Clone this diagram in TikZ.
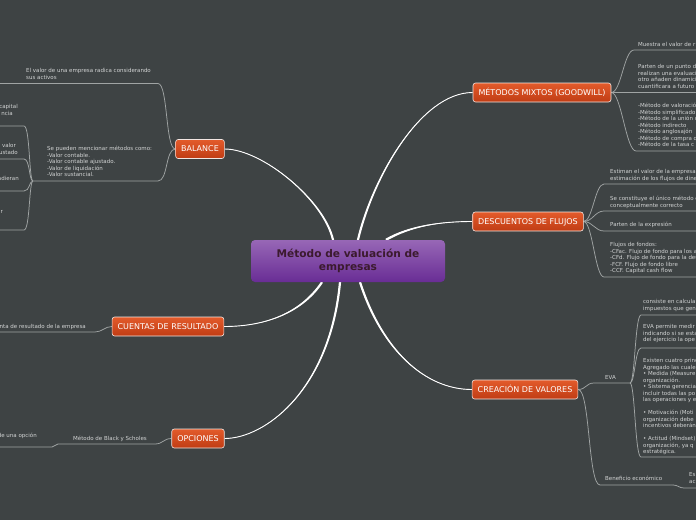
\documentclass[tikz,border=0pt]{standalone}
\usepackage{fontspec}
\setmainfont{DejaVu Sans}
\usetikzlibrary{calc}
\definecolor{bgc}{HTML}{3E4344}
\definecolor{linec}{HTML}{A0A4A4}
\definecolor{txtc}{HTML}{D2D4D4}
\definecolor{brtop}{HTML}{E35B2B}
\definecolor{brbot}{HTML}{C03C14}
\definecolor{brline}{HTML}{F2E6E2}
\definecolor{cetop}{HTML}{9767B6}
\definecolor{cebot}{HTML}{692D95}
\definecolor{cetxt}{HTML}{3B1A2E}
\newcommand{\tlines}[1]{\begin{tabular}[t]{@{}l@{}}#1\end{tabular}}
\newcommand{\taperline}[5]{%
  \fill[white] ($(#1)+(#5)$) .. controls ($(#2)+(#5)$) and (#3) .. (#4)
     .. controls (#3) and ($(#2)-(#5)$) .. ($(#1)-(#5)$) -- cycle;
  \draw[white,line width=0.9pt] (#1) .. controls (#2) and (#3) .. (#4);}
\pgfdeclarelayer{back}
\pgfsetlayers{back,main}
\begin{document}
\begin{tikzpicture}[x=1pt,y=-1pt,
 subline/.style={draw=linec,line width=0.75pt},
 txt/.style={font=\fontsize{5.5}{6.5}\selectfont,text=txtc,inner sep=0pt,anchor=base west},
 txtr/.style={txt,anchor=base east},
 brnode/.style={draw=brline,line width=0.6pt,rounded corners=2.5pt,top color=brtop,bottom color=brbot,
   text=white,font=\fontsize{8}{9}\selectfont,minimum height=19pt,inner xsep=5.5pt,inner ysep=0pt,
   text height=5.8pt,text depth=0pt},
]
\useasboundingbox (0,0) rectangle (696,520);

% central node
\node[rounded corners=4pt,top color=cetop,bottom color=cebot,minimum width=194pt,minimum height=42pt,
  align=center,text=cetxt,font=\bfseries\fontsize{10.6}{12.8}\selectfont,inner sep=0pt]
  (cen) at (348,261) {Método de valuación de\\empresas};

% branch nodes
\node[brnode] (bal) at (200,149) {BALANCE};
\node[brnode] (cue) at (168,326.5) {CUENTAS DE RESULTADO};
\node[brnode] (opc) at (198,438.5) {OPCIONES};
\node[brnode] (met) at (542,92.5) {MÉTODOS MIXTOS (GOODWILL)};
\node[brnode] (des) at (528,221.5) {DESCUENTOS DE FLUJOS};
\node[brnode] (cre) at (525,389.5) {CREACIÓN DE VALORES};

% left texts
\node[txt] (tv) at (26,72.5) {\tlines{El valor de una empresa radica considerando\\sus activos}};
\node[txt] (ts) at (47,150.8) {\tlines{Se pueden mencionar métodos como:\\-Valor contable.\\-Valor contable ajustado.\\-Valor de liquidación\\-Valor sustancial.}};
\node[txtr] (f1) at (18,108.5) {capital};
\node[txtr] (f2) at (13,115) {ncia};
\node[txtr] (f3) at (16,147.5) {valor};
\node[txtr] (f4) at (18,154.5) {ustado};
\node[txtr] (f5) at (19,180.5) {adieran};
\node[txtr] (f6) at (3,213) {r};
\node[txtr] (tc) at (86,328.5) {nta de resultado de la empresa};
\node[txt] (tb) at (73,440.5) {Método de Black y Scholes};
\node[txtr] (to) at (37,437.5) {de una opción};

% right texts
\node[txt] (m1) at (638,46.5) {Muestra el valor de r};
\node[txt] (m2) at (638,68.5) {\tlines{Parten de un punto d\\realizan una evaluaci\\otro añaden dinamici\\cuantificara a futuro}};
\node[txt] (m3) at (638,107.5) {\tlines{-Método de valoración\\-Método simplificado\\-Método de la unión d\\-Método indirecto\\-Método anglosajón\\-Método de compra d\\-Método de la tasa c}};
\node[txt] (d1) at (610,173.5) {\tlines{Estiman el valor de la empresa\\estimación de los flujos de dine}};
\node[txt] (d2) at (610,200.5) {\tlines{Se constituye el único método c\\conceptualmente correcto}};
\node[txt] (d3) at (610,226.5) {Parten de la expresión};
\node[txt] (d4) at (610,246.5) {\tlines{Flujos de fondos:\\-CFac. Flujo de fondo para los a\\-CFd. Flujo de fondo para la deu\\-FCF. Flujo de fondo libre\\-CCF. Capital cash flow}};
\node[txt] (ev) at (605,379) {EVA};
\node[txt] (e1) at (643,303.5) {\tlines{consiste en calcula\\impuestos que gen}};
\node[txt] (e2) at (643,328.8) {\tlines{EVA permite medir\\indicando si se esta\\del ejercicio la ope}};
\node[txt] (e3) at (643,362.5) {\tlines{Existen cuatro princ\\Agregado las cuale\\• Medida (Measure\\organización.\\• Sistema gerencia\\incluir todas las po\\las operaciones y e\\\mbox{}\\• Motivación (Moti\\organización debe\\incentivos deberán\\\mbox{}\\• Actitud (Mindset)\\organización, ya q\\estratégica.}};
\node[txt] (bn) at (605,480.5) {Beneficio económico};
\node[txt] (es) at (689,476.5) {\tlines{Es\\ac}};

% coordinates
\coordinate (uvr) at (158,83.5); \coordinate (uvl) at (-2,83.5);
\coordinate (usr) at (158,181); \coordinate (js) at (33,181);
\coordinate (g1r) at (24,126); \coordinate (g1l) at (-2,126);
\coordinate (g2r) at (24,159); \coordinate (g2l) at (-2,159);
\coordinate (g3r) at (24,191); \coordinate (g3l) at (-2,191);
\coordinate (g4r) at (24,230); \coordinate (g4l) at (-2,230);
\coordinate (ucr) at (95,332); \coordinate (ucl) at (-2,332);
\coordinate (uor) at (155,444); \coordinate (uol) at (58,444);
\coordinate (uxr) at (52,447); \coordinate (uxl) at (-2,447);
\coordinate (m1a) at (634,50); \coordinate (m1b) at (700,50);
\coordinate (m2b) at (700,92.5);
\coordinate (m3a) at (636,151); \coordinate (m3b) at (700,151);
\coordinate (d1a) at (604,184); \coordinate (d1b) at (700,184);
\coordinate (d2a) at (604,211); \coordinate (d2b) at (700,211);
\coordinate (d3a) at (604,231); \coordinate (d3b) at (700,231);
\coordinate (d4a) at (604,277); \coordinate (d4b) at (700,277);
\coordinate (eva) at (594,383); \coordinate (evb) at (630,383);
\coordinate (e1a) at (641,315); \coordinate (e1b) at (700,315);
\coordinate (e2a) at (641,348); \coordinate (e2b) at (700,348);
\coordinate (e3a) at (641,457); \coordinate (e3b) at (700,457);
\coordinate (bna) at (600,485); \coordinate (bnb) at (673,485);
\coordinate (esa) at (684,488); \coordinate (esb) at (700,488);
\coordinate (cb) at ($(cen.north)+(-15,0)$);
\coordinate (cm) at ($(cen.north)+(10,0)$);
\coordinate (cd) at ($(cen.north)+(38,0)$);
\coordinate (cc) at ($(cen.south)+(-26,0)$);
\coordinate (co) at ($(cen.south)+(-8,0)$);
\coordinate (cr) at ($(cen.south)+(12,0)$);

\begin{pgfonlayer}{back}
\fill[bgc] (0,0) rectangle (696,520);
% main connectors
\taperline{cb}{324,200}{262,149}{bal.east}{1.1,0}
\taperline{cm}{372,180}{420,92.5}{met.west}{1.1,0}
\taperline{cd}{410,226}{440,221.5}{des.west}{0.55,1}
\taperline{cc}{300,315}{262,326.5}{cue.east}{0.9,0.6}
\taperline{co}{330,390}{265,438.5}{opc.east}{1.1,0}
\taperline{cr}{382,350}{425,389.5}{cre.west}{1.05,-0.35}
% sub connectors left
\draw[subline] (bal.west) .. controls +(-10,0) and +(10,0) .. (uvr) -- (uvl);
\draw[subline] (bal.west) .. controls +(-10,0) and +(10,0) .. (usr) -- (js);
\draw[subline] (js) .. controls +(-4,0) and +(6,0) .. (g1r) -- (g1l);
\draw[subline] (js) .. controls +(-4,0) and +(6,0) .. (g2r) -- (g2l);
\draw[subline] (js) .. controls +(-4,0) and +(6,0) .. (g3r) -- (g3l);
\draw[subline] (js) .. controls +(-4,0) and +(6,0) .. (g4r) -- (g4l);
\draw[subline] (cue.west) .. controls +(-7,0) and +(7,0) .. (ucr) -- (ucl);
\draw[subline] (opc.west) .. controls +(-8,0) and +(8,0) .. (uor) -- (uol);
\draw[subline] (uol) .. controls +(-3,0) and +(3,0) .. (uxr) -- (uxl);
% sub connectors right
\draw[subline] (met.east) .. controls +(10,0) and +(-10,0) .. (m1a) -- (m1b);
\draw[subline] (met.east) -- (m2b);
\draw[subline] (met.east) .. controls +(10,0) and +(-10,0) .. (m3a) -- (m3b);
\draw[subline] (des.east) .. controls +(9,0) and +(-9,0) .. (d1a) -- (d1b);
\draw[subline] (des.east) .. controls +(9,0) and +(-9,0) .. (d2a) -- (d2b);
\draw[subline] (des.east) .. controls +(9,0) and +(-9,0) .. (d3a) -- (d3b);
\draw[subline] (des.east) .. controls +(9,0) and +(-9,0) .. (d4a) -- (d4b);
\draw[subline] (cre.east) .. controls +(8,0) and +(-8,0) .. (eva) -- (evb);
\draw[subline] (evb) .. controls +(5,0) and +(-6,0) .. (e1a) -- (e1b);
\draw[subline] (evb) .. controls +(5,0) and +(-6,0) .. (e2a) -- (e2b);
\draw[subline] (evb) .. controls +(5,0) and +(-6,0) .. (e3a) -- (e3b);
\draw[subline] (cre.east) .. controls +(12,0) and +(-12,0) .. (bna) -- (bnb);
\draw[subline] (bnb) .. controls +(5,0) and +(-5,0) .. (esa) -- (esb);
\end{pgfonlayer}
\end{tikzpicture}
\end{document}
